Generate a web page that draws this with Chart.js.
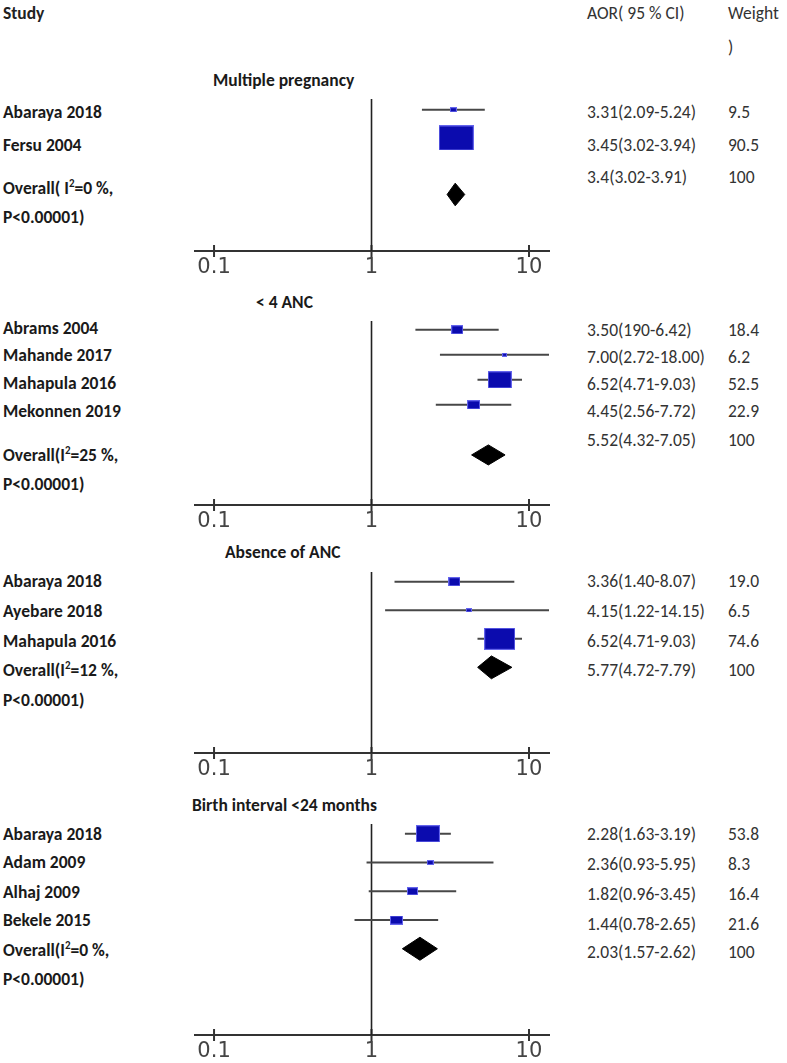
<!DOCTYPE html>
<html><head><meta charset="utf-8">
<script src="https://cdn.jsdelivr.net/npm/chart.js@4.4.0/dist/chart.umd.min.js"></script>
<style>
html,body{margin:0;padding:0;background:#fff;}
body{width:787px;height:1063px;position:relative;overflow:hidden;font-family:"Carlito","Lato","Open Sans",sans-serif;}
.t{position:absolute;white-space:nowrap;line-height:20px;height:20px;}
.l{font-weight:700;color:#1a1a1a;font-size:17.5px;}
.r{font-weight:400;color:#333;font-size:17.5px;}
.h{font-weight:700;color:#222;font-size:17.5px;}
canvas{position:absolute;}
sup{font-size:11px;position:relative;top:-7px;vertical-align:baseline;line-height:0;}
</style></head><body>
<script>
// ---------------- DATA ----------------
const panelTitles = ["Multiple pregnancy", "< 4 ANC", "Absence of ANC", "Birth interval <24 months"];

const studies1 = ["Abaraya 2018", "Fersu 2004"];
const aor1 = [3.31, 3.45];
const lo1 = [2.09, 3.02];
const hi1 = [5.24, 3.94];
const weight1 = [9.5, 90.5];
const overall1 = [3.4, 3.02, 3.91];
const i2_1 = "0";
const aorText1 = ["3.31(2.09-5.24)", "3.45(3.02-3.94)", "3.4(3.02-3.91)"];
const weightText1 = ["9.5", "90.5", "100"];

const studies2 = ["Abrams 2004", "Mahande 2017", "Mahapula 2016", "Mekonnen 2019"];
const aor2 = [3.50, 7.00, 6.52, 4.45];
const lo2 = [1.90, 2.72, 4.71, 2.56];
const hi2 = [6.42, 18.00, 9.03, 7.72];
const weight2 = [18.4, 6.2, 52.5, 22.9];
const overall2 = [5.52, 4.32, 7.05];
const i2_2 = "25";
const aorText2 = ["3.50(190-6.42)", "7.00(2.72-18.00)", "6.52(4.71-9.03)", "4.45(2.56-7.72)", "5.52(4.32-7.05)"];
const weightText2 = ["18.4", "6.2", "52.5", "22.9", "100"];

const studies3 = ["Abaraya 2018", "Ayebare 2018", "Mahapula 2016"];
const aor3 = [3.36, 4.15, 6.52];
const lo3 = [1.40, 1.22, 4.71];
const hi3 = [8.07, 14.15, 9.03];
const weight3 = [19.0, 6.5, 74.6];
const overall3 = [5.77, 4.72, 7.79];
const i2_3 = "12";
const aorText3 = ["3.36(1.40-8.07)", "4.15(1.22-14.15)", "6.52(4.71-9.03)", "5.77(4.72-7.79)"];
const weightText3 = ["19.0", "6.5", "74.6", "100"];

const studies4 = ["Abaraya 2018", "Adam 2009", "Alhaj 2009", "Bekele 2015"];
const aor4 = [2.28, 2.36, 1.82, 1.44];
const lo4 = [1.63, 0.93, 0.96, 0.78];
const hi4 = [3.19, 5.95, 3.45, 2.65];
const weight4 = [53.8, 8.3, 16.4, 21.6];
const overall4 = [2.03, 1.57, 2.62];
const i2_4 = "0";
const aorText4 = ["2.28(1.63-3.19)", "2.36(0.93-5.95)", "1.82(0.96-3.45)", "1.44(0.78-2.65)", "2.03(1.57-2.62)"];
const weightText4 = ["53.8", "8.3", "16.4", "21.6", "100"];

const pText = "P<0.00001)";
const tickValues = [0.1, 1, 10];
const tickLabels = ["0.1", "1", "10"];
const headers = ["Study", "AOR( 95 % CI)", "Weight", ")"];

// ---------------- LAYOUT ----------------
const panels = [
  {studies:studies1, est:aor1, lo:lo1, hi:hi1, w:weight1, ov:overall1, i2:i2_1, aorT:aorText1, wT:weightText1, ovPrefix:"Overall( I"},
  {studies:studies2, est:aor2, lo:lo2, hi:hi2, w:weight2, ov:overall2, i2:i2_2, aorT:aorText2, wT:weightText2, ovPrefix:"Overall(I"},
  {studies:studies3, est:aor3, lo:lo3, hi:hi3, w:weight3, ov:overall3, i2:i2_3, aorT:aorText3, wT:weightText3, ovPrefix:"Overall(I"},
  {studies:studies4, est:aor4, lo:lo4, hi:hi4, w:weight4, ov:overall4, i2:i2_4, aorT:aorText4, wT:weightText4, ovPrefix:"Overall(I"}
];
// ovGap: rows between last study and the pooled diamond; axisGap: rows between last study and axis
const layouts = [
  {vtop:95,  axisY:251,  rowMin:-0.38, ovGap:2, axisGap:4, left:[112,145], ovY:188, pY:217, right:[112,145,177], tx:213, ty:80},
  {vtop:317, axisY:505,  rowMin:-0.35, ovGap:2, axisGap:4, left:[328,355,383,411], ovY:455, pY:484, right:[330,357,384,411,440], tx:256, ty:302},
  {vtop:568, axisY:753,  rowMin:-0.34, ovGap:1, axisGap:4, left:[581,611,641], ovY:670, pY:700, right:[581,611,641,670], tx:225, ty:552},
  {vtop:820, axisY:1035, rowMin:-0.34, ovGap:1, axisGap:4, left:[834,862,892,920], ovY:950, pY:979, right:[834,864,894,924,952], tx:192, ty:805}
];
const CL = 150, CW = 430, PAD_L = 45, PAD_R = 31, PAD_T = 4, AXIS_H = 36;
const X_MIN = 0.0757, X_MAX = 13.4;

function addText(cls, html, x, yc) {
  const d = document.createElement('div');
  d.className = 't ' + cls;
  d.innerHTML = html;
  d.style.left = x + 'px';
  d.style.top = (yc - 10) + 'px';
  document.body.appendChild(d);
}

function boxImage(w) {
  const bw = Math.max(4, Math.round(1.5 * Math.pow(w, 0.7)));
  const bh = Math.max(3, Math.round(bw * 0.72));
  const cv = document.createElement('canvas');
  cv.width = bw; cv.height = bh;
  const g = cv.getContext('2d');
  g.fillStyle = '#6464ec'; g.fillRect(0, 0, bw, bh);
  g.fillStyle = '#0b0bae'; g.fillRect(1, 1, bw - 2, bh - 2);
  return cv;
}

addText('h', headers[0], 3, 13);
addText('r', headers[1], 587, 13);
addText('r', headers[2], 728, 13);
addText('r', headers[3], 728, 47);

panels.forEach((d, p) => {
  const L = layouts[p];
  addText('l', panelTitles[p], L.tx, L.ty);
  d.studies.forEach((s, i) => addText('l', s, 3, L.left[i]));
  addText('l', d.ovPrefix + '<sup>2</sup>=' + d.i2 + ' %,', 3, L.ovY);
  addText('l', pText, 3, L.pY);
  d.aorT.forEach((s, i) => addText('r', s, 587, L.right[i]));
  d.wT.forEach((s, i) => addText('r', s, 728, L.right[i]));

  const n = d.studies.length;
  const ovRow = n - 1 + L.ovGap, axisRow = n - 1 + L.axisGap;
  const c = document.createElement('canvas');
  const H = PAD_T + (L.axisY - L.vtop) + AXIS_H;
  c.width = CW; c.height = H;
  c.style.left = CL + 'px'; c.style.top = (L.vtop - PAD_T) + 'px';
  document.body.appendChild(c);

  const datasets = [];
  datasets.push({
    type: 'scatter', data: d.est.map((v, i) => ({x: v, y: i})),
    pointStyle: d.w.map(boxImage), pointRadius: 4, showLine: false, clip: false
  });
  const [e, a, b] = d.ov;
  datasets.push({
    type: 'line', data: [{x:a,y:ovRow},{x:e,y:ovRow-0.4},{x:b,y:ovRow},{x:e,y:ovRow+0.4},{x:a,y:ovRow}],
    fill: 'shape', backgroundColor: '#000', borderColor: '#000', borderWidth: 1, pointRadius: 0, tension: 0
  });
  d.est.forEach((v, i) => {
    datasets.push({
      type: 'line', data: [{x: d.lo[i], y: i}, {x: d.hi[i], y: i}],
      borderColor: '#474747', borderWidth: 2, pointRadius: 0, fill: false
    });
  });
  datasets.push({
    type: 'line', data: [{x: 1, y: L.rowMin}, {x: 1, y: axisRow}],
    borderColor: '#222', borderWidth: 1.6, pointRadius: 0, fill: false
  });
  datasets.push({
    type: 'scatter', data: tickValues.map(v => ({x: v, y: axisRow})),
    pointStyle: 'line', pointRotation: 90, pointRadius: 6, pointBorderWidth: 2,
    pointBorderColor: '#333', borderColor: '#333', showLine: false, clip: false
  });

  new Chart(c, {
    type: 'scatter',
    data: {datasets},
    options: {
      responsive: false, animation: false, devicePixelRatio: 1,
      layout: {padding: {left: PAD_L, right: PAD_R, top: PAD_T, bottom: 0}},
      plugins: {legend: {display: false}, tooltip: {enabled: false}},
      scales: {
        x: {
          type: 'logarithmic', min: X_MIN, max: X_MAX,
          afterBuildTicks: s => { s.ticks = tickValues.map(v => ({value: v})); },
          afterFit: s => { s.height = AXIS_H; },
          ticks: {
            callback: (v, i) => tickLabels[i], color: '#444',
            font: {family: 'DejaVu Sans', size: 21, weight: 'normal'},
            padding: 4, maxRotation: 0, autoSkip: false
          },
          grid: {display: false, drawTicks: false},
          border: {display: true, color: '#333', width: 2}
        },
        y: {type: 'linear', reverse: true, min: L.rowMin, max: axisRow, display: false}
      }
    }
  });
});
</script></body></html>
